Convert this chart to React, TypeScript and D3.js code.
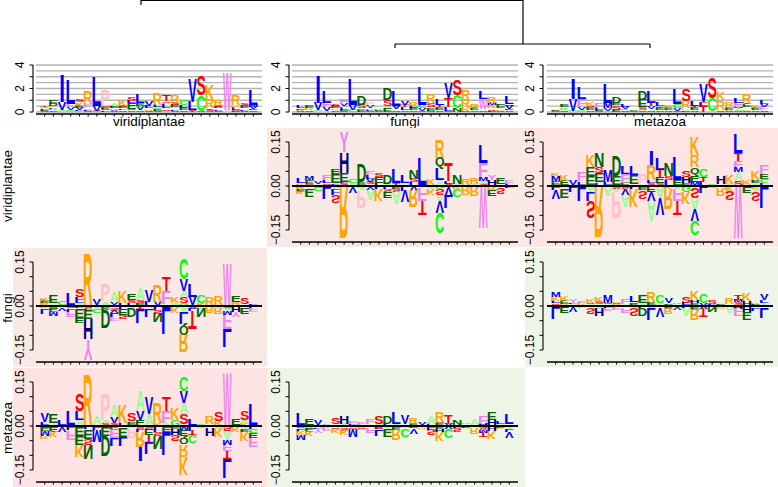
import React from "react";
import * as d3 from "d3";

// Sequence-logo columns: letter+height, listed from the axis outward.
const viridiplantaeLogo = [
  "S.05 K.05 E.08 L.1 A.05 R.08 T.05",
  "S.08 A.1 R.1 L.12 K.15 D.15 E.35",
  "A.08 C.1 V.65 I2.27",
  "K.05 C.08 V.25 F.3 L2.1",
  "R.1 L.1 V.15 E.15 K.2 F.15 S.25",
  "S.1 L.1 K.1 A.15 F.25 R1.05",
  "C.05 S.05 V.45 L2.5",
  "L.08 A.1 E.22 S.15 P1.3",
  "S.1 V.1 K.1 L.15 E.1 A.25",
  "S.1 A.1 L.1 E.15 S.1 K.5",
  "V.05 A.1 S.1 E.5 L.15 S.3",
  "S.05 A.1 V.3 C.1 E.25 L.7",
  "S.1 R.1 A.1 L.2 V.45",
  "S.1 E.15 A.2 L.15 R.95",
  "K.1 S.1 A.15 L.35 F.1 S.1 T.55",
  "S.1 L.1 A.15 K.1 E.15 S.2 R.6",
  "S.05 A.1 E.2 L.25 C.45",
  "T.1 S.05 L.7 V2.0",
  "S.05 C1.35 S1.65",
  "S.2 T.1 R.7 K1.3",
  "S.1 L.1 A.1 E.15 S.1 R.5",
  "A.1 Y.1 W3.2",
  "E.1 S.1 L.15 A.1 K.15 R.9",
  "S.1 L.1 A.1 E.2 S.25",
  "S.05 A.1 E.1 V.15 M.2 L1.3",
];
const fungiLogo = [
  "S.05 K.08 A.07 E.1 L.2",
  "S.05 A.08 R.1 K.12 E.2",
  "A.05 C.1 V.65 I2.35",
  "A.1 V.3 F.4 L1.0",
  "S.08 A.1 K.12 E.15 S.25",
  "S.1 E.1 L.15 A.15 V.15 F.45",
  "C.2 V.4 L2.2",
  "E.15 A.15 S.3 D.8",
  "S.1 L.1 K.1 V.15 A.15 P.2",
  "S.05 E.08 K.1 A.12",
  "E.3 A.2 S.5 D1.0",
  "S.1 A.15 V.3 L1.3",
  "S.08 A.12 L.2 T.2 V.3",
  "S.08 A.12 E.15 L.15 R.3",
  "S.1 V.2 C.3 L1.5",
  "S.1 E.2 A.15 S.3 R.7",
  "S.05 A.15 E.2 T.2 L.5",
  "S.1 L.3 T.75 V1.3",
  "N.3 C1.1 S1.3",
  "S.1 K.2 R.75 R.9",
  "S.08 A.12 E.15 R.3",
  "S.1 A.15 W.7 F.15 L.65",
  "E.1 S.1 A.1 K.3 M.2 R.5",
  "S.08 K.1 A.12 E.35",
  "S.05 A.1 E.1 V.3 M.15 L.65",
];
const metazoaLogo = [
  "S.05 K.05 E.1 A.1",
  "S.05 A.1 K.1 C.15 E.25",
  "A.05 C.05 V1.0 I1.8",
  "K.1 C.05 V.25 F.7 L1.0",
  "S.1 A.1 E.25 S.1 K.35",
  "S.1 E.1 L.15 A.1 F.35",
  "C.1 V.2 M.5 L1.6",
  "E.15 S.35 A.1 E.2 D.55",
  "S.05 A.1 K.1 V.15 L.25",
  "S.05 E.05 A.1",
  "S.1 A.1 S.2 E.6 D.8",
  "S.1 A.15 V.25 T.3 L1.0",
  "S.08 A.12 E.15 T.15 L.3",
  "S.05 A.1 E.15 K.2",
  "S.05 V.25 C.35 L1.35",
  "E.1 A.1 K.1 R.65 S1.0",
  "S.05 A.1 E.15 T.2 L.45",
  "T.5 L.3 S.05 V1.5",
  "A.1 C1.1 S1.8",
  "S.1 A.1 R.8 K.6",
  "S.1 K.1 E.15 A.15 R.3",
  "S.1 A.2 M.1 F.4 L.4",
  "S.1 K.15 A.15 E.3 R.9",
  "S.05 A.1 E.15 K.2",
  "S.05 A.1 F.3 V.2 L.35",
];

// Difference logos, read per column above and below the zero line.
const vfUp = [
  "E.004 K.005 L.018", "A.003 S.005 E.012 M.013", "R.003 A.005 V.01", "A.005 S.005 L.01 F.018", "S.005 L.005 E.03 E.015",
  "S.01 L.005 E.03 H.07 Y.07", "A.01 C.012", "L.004 E.01 D.06", "K.005 S.01 V.01 L.012 F.012", "L.01 E.02 S.015",
  "A.008 D.03", "T.01 L.046", "R.005 A.005 L.025", "L.012 S.012 N.03", "T.005 L.093",
  "E.005 K.02", "A.02 L.04 Q.037 R.061", "S.007 L.01 T.06", "A.007 N.03", "E.005 R.02",
  "A.007 R.02", "S.007 A.01 M.013 F.048 L.06", "S.004 H.015 Y.018", "A.006 E.02", "L.006 F.014",
];
const vfDown = [
  "R.01 E.008 K.008", "K.005 A.005 E.025", "K.003 C.012", "S.002 L.04", "A.01 L.01 L.01 S.025",
  "K.005 R.173", "S.004 V.02", "S.005 A.01 P.059", "S.005 V.008 A.035", "L.01 K.04",
  "L.01 S.01 E.02", "E.01 S.01 A.04", "L.015 V.04", "V.015 R.055", "A.005 F.045 T.05",
  "A.01 K.02", "G.01 S.02 A.02 V.04 C.07", "S.002 V.03 L.045", "K.01 C.026", "A.004 R.024",
  "K.005 R.028", "W.142", "S.005 R.01 E.02", "A.006 S.022", "V.004 L.004",
];
const vmUp = [
  "S.005 E.012 M.016 K.01", "A.002 E.015 K.02", "A.004 V.016", "A.005 L.01 F.03", "S.005 E.03 E.03 K.04",
  "L.01 A.005 E.03 S.02 N.05", "S.005 L.01 M.04", "L.005 E.03 D.068", "E.011 F.03 L.025", "A.006 E.03 L.03",
  "S.005 A.005 P.03", "S.01 L.01 R.05 I.05", "S.01 E.02 T.025 L.04", "L.02 S.015 N.042", "T.005 E.015 L.08",
  "E.01 H.02 S.02", "M.015 E.02 Q.03 R.04 K.06", "L.015 T.015 C.028", "A.005 C.005", "E.006 H.026",
  "A.007 K.03", "S.017 A.03 M.018 F.02 T.028 L.063", "A.005 K.015", "A.01 E.01 K.03", "L.01 C.015 E.015 F.03",
];
const vmDown = [
  "S.005 L.01 V.03", "L.005 A.005 E.03", "A.005 L.015", "S.002 L.048", "A.02 L.03 S.06",
  "K.005 R.17", "S.003 A.03", "S.01 A.01 P.09", "S.01 V.02 A.04", "L.01 K.06",
  "L.005 E.01 S.025", "E.02 V.03 A.07", "A.04 V.057", "K.01 R.07", "A.01 F.04 T.05",
  "G.02 K.04", "E.005 S.035 A.04 V.04 C.05", "S.005 L.02", "A.003 C.005", "E.006 R.026",
  "K.015 S.033", "W.18", "A.005 E.02", "K.01 A.01 S.033", "L.074",
];
const fmUp = [
  "E.004 S.004 A.003 L.006 K.014 M.016", "S.003 R.003 E.012 K.016", "R.003 A.003 L.004 Y.013", "E.003 K.003 A.002 F.008", "E.003 A.003 S.004 K.014",
  "E.003 A.003 S.008 K.018", "R.003 A.003 S.004 M.024", "E.004 R.004 S.003 K.006", "K.003 A.005 F.016", "E.008 S.005 L.022",
  "A.01 E.027", "L.005 E.007 R.035", "E.004 A.006 C.026", "R.004 E.006 V.018", "E.003 A.004 R.003",
  "A.003 L.008 S.02", "E.01 H.01 K.03", "V.01 C.03", "R.003 L.004 S.015", "K.004 E.003 A.003",
  "E.006 R.02", "R.003 S.01 M.007 T.018", "A.005 H.013 K.025", "R.003 E.003 K.005", "A.01 L.01 V.02",
];
const fmDown = [
  "A.004 L.04", "L.005 E.02", "A.003 V.015", "E.003 F.006 A.002", "L.005 S.02",
  "A.008 H.025", "K.003 L.002 F.008", "S.002 F.01", "R.005 F.015", "A.008 S.025",
  "L.008 D.025", "A.008 L.04", "S.006 V.03", "E.008 R.02", "L.003 V.008",
  "L.008 A.025", "E.01 S.005 R.035", "V.008 T.03", "K.004 N.018", "E.003 A.003 R.004",
  "S.005 A.02", "H.008 F.028", "S.004 H.015 E.025", "R.004 A.003 L.008", "A.006 L.034",
];

const speciesLabels = ["viridiplantae", "fungi", "metazoa"];
const yTicksTop = [0, 1, 2, 3, 4];
const yTickLabelsTop = [0, 2, 4];
const gridLevels = [0, 0.5, 1, 1.5, 2, 2.5, 3, 3.5, 4];
const yTicksDiff = [-0.15, -0.1, -0.05, 0, 0.05, 0.1, 0.15];
const yTickLabelsDiff = [-0.15, 0, 0.15];
const positions = d3.range(1, 26);

const letterColors: Record<string, string> = {
  A: "#98fb98", C: "#00ff00", D: "#006400", E: "#006400", F: "#ee82ee", G: "#00ff00", H: "#000080",
  I: "#0000ff", K: "#ffa500", L: "#0000ff", M: "#0000ff", N: "#006400", P: "#ffc0cb", Q: "#006400",
  R: "#ffa500", S: "#ff0000", T: "#ff0000", V: "#0000ff", W: "#ee82ee", Y: "#ee82ee",
};

const FONT = "'Liberation Sans', Arial, sans-serif";
const columnsX = [36, 292, 547];
const yAxisX = [33, 289, 543];
const axisW = 226;
const letterW = 8.6;

type Entry = { letter: string; h: number };
const parse = (s: string): Entry[] =>
  Array.from(s.matchAll(/([A-Z])([\d.]+)/g)).map((m) => ({ letter: m[1], h: +m[2] }));

const ctx = document.createElement("canvas").getContext("2d")!;
const metricCache: Record<string, { l: number; r: number; a: number; d: number }> = {};
function metric(letter: string) {
  if (!metricCache[letter]) {
    ctx.font = `bold 100px ${FONT}`;
    const m = ctx.measureText(letter);
    metricCache[letter] = {
      l: m.actualBoundingBoxLeft,
      r: m.actualBoundingBoxRight,
      a: m.actualBoundingBoxAscent,
      d: m.actualBoundingBoxDescent,
    };
  }
  return metricCache[letter];
}

function Glyph({ letter, cx, yBase, yEnd, width }: { letter: string; cx: number; yBase: number; yEnd: number; width: number }) {
  // The box runs from yBase (side nearest the axis) to yEnd; below-zero letters come out upside-down.
  const m = metric(letter);
  const sx = width / (m.l + m.r);
  const up = yEnd < yBase;
  const sy = (Math.abs(yEnd - yBase) / (m.a + m.d)) * (up ? 1 : -1);
  const tx = cx - width / 2 + m.l * sx;
  const ty = yBase - m.d * sy;
  return (
    <text
      transform={`translate(${tx},${ty}) scale(${sx},${sy})`}
      fontFamily={FONT}
      fontWeight="bold"
      fontSize={100}
      fill={letterColors[letter]}
    >
      {letter}
    </text>
  );
}

function stackGlyphs(cols: string[], x: d3.ScaleLinear<number, number>, y: d3.ScaleLinear<number, number>, dir: 1 | -1) {
  const out: React.ReactNode[] = [];
  cols.forEach((col, i) => {
    let acc = 0;
    parse(col).forEach((e, j) => {
      const y0 = y(dir * acc);
      acc += e.h;
      const y1 = y(dir * acc);
      out.push(
        <Glyph
          key={`${dir}-${i}-${j}`}
          letter={e.letter}
          cx={x(positions[i])}
          yBase={y0}
          yEnd={y1}
          width={e.letter === "I" ? 3.3 : letterW}
        />
      );
    });
  });
  return out;
}

function XAxis({ x, yPos }: { x: d3.ScaleLinear<number, number>; yPos: number }) {
  const [a, b] = x.range();
  return (
    <g stroke="#000" strokeWidth={1}>
      <line x1={a} x2={b} y1={yPos} y2={yPos} strokeWidth={1.4} />
      {positions.map((p) => (
        <line key={p} x1={x(p)} x2={x(p)} y1={yPos} y2={yPos + 2.5} />
      ))}
    </g>
  );
}

function YAxis({ ax, y, ticks, labels, fmt }: { ax: number; y: d3.ScaleLinear<number, number>; ticks: number[]; labels: number[]; fmt: (v: number) => string }) {
  return (
    <g>
      <line x1={ax} x2={ax} y1={y(ticks[0])} y2={y(ticks[ticks.length - 1])} stroke="#000" strokeWidth={1.1} />
      {ticks.map((t) => (
        <line key={t} x1={ax - 3.5} x2={ax} y1={y(t)} y2={y(t)} stroke="#000" strokeWidth={1} />
      ))}
      {labels.map((t) => (
        <text
          key={t}
          transform={`translate(${ax - 9.5},${y(t)}) rotate(-90)`}
          textAnchor="middle"
          fontFamily={FONT}
          fontSize={12}
          fill="#000"
        >
          {fmt(t)}
        </text>
      ))}
    </g>
  );
}

function TopPanel({ col, data, label }: { col: number; data: string[]; label: string }) {
  const x = d3.scaleLinear().domain([0, 26]).range([columnsX[col], columnsX[col] + axisW]);
  const y = d3.scaleLinear().domain([0, 4]).range([112, 65]);
  return (
    <g>
      {gridLevels.map((g) => (
        <line key={g} x1={x(0)} x2={x(26)} y1={y(g)} y2={y(g)} stroke="#b4b4b4" strokeWidth={1.4} />
      ))}
      {stackGlyphs(data, x, y, 1)}
      <XAxis x={x} yPos={114} />
      <YAxis ax={yAxisX[col]} y={y} ticks={yTicksTop} labels={yTickLabelsTop} fmt={(v) => String(v)} />
      <text x={(x(0) + x(26)) / 2} y={125.5} textAnchor="middle" fontFamily={FONT} fontSize={13.5}>
        {label}
      </text>
    </g>
  );
}

function DiffPanel({ col, row, up, down, bg }: { col: number; row: number; up: string[]; down: string[]; bg: [number, number, number, number, string] }) {
  const x = d3.scaleLinear().domain([0, 26]).range([columnsX[col], columnsX[col] + axisW]);
  const zero = 186 + row * 120;
  const y = d3.scaleLinear().domain([-0.15, 0.15]).range([zero + 44, zero - 44]);
  return (
    <g>
      <rect x={bg[0]} y={bg[1]} width={bg[2] - bg[0]} height={bg[3] - bg[1]} fill={bg[4]} />
      {stackGlyphs(up, x, y, 1)}
      {stackGlyphs(down, x, y, -1)}
      <line x1={x(0)} x2={x(26)} y1={y(0)} y2={y(0)} stroke="#000" strokeWidth={1.8} />
      <XAxis x={x} yPos={zero + 56} />
      <YAxis ax={yAxisX[col]} y={y} ticks={yTicksDiff} labels={yTickLabelsDiff} fmt={(v) => d3.format(".2f")(v)} />
    </g>
  );
}

const treeSegments = [
  [141, 0.5, 523, 0.5],
  [141, 0, 141, 5],
  [523, 0, 523, 44],
  [395, 44, 650, 44],
  [395, 44, 395, 48],
  [650, 44, 650, 48],
];

export default function App() {
  return (
    <svg width={778} height={487} style={{ position: "absolute", left: 0, top: 0, background: "#fff" }}>
      {treeSegments.map((t, i) => (
        <line key={i} x1={t[0]} y1={t[1]} x2={t[2]} y2={t[3]} stroke="#000" strokeWidth={1.2} />
      ))}
      <TopPanel col={0} data={viridiplantaeLogo} label={speciesLabels[0]} />
      <TopPanel col={1} data={fungiLogo} label={speciesLabels[1]} />
      <TopPanel col={2} data={metazoaLogo} label={speciesLabels[2]} />

      <DiffPanel col={1} row={0} up={vfUp} down={vfDown} bg={[267, 128, 525, 247, "#f8e9e5"]} />
      <DiffPanel col={2} row={0} up={vmUp} down={vmDown} bg={[525, 128, 778, 247, "#fde5e3"]} />
      <DiffPanel col={0} row={1} up={vfDown} down={vfUp} bg={[13, 248, 267, 367, "#f8e9e5"]} />
      <DiffPanel col={2} row={1} up={fmUp} down={fmDown} bg={[525, 248, 778, 367, "#eff5e6"]} />
      <DiffPanel col={0} row={2} up={vmDown} down={vmUp} bg={[13, 368, 267, 487, "#fde3e3"]} />
      <DiffPanel col={1} row={2} up={fmDown} down={fmUp} bg={[267, 368, 525, 487, "#eff5e6"]} />

      {[186, 308, 428].map((cy, i) => (
        <text key={i} transform={`translate(12,${cy}) rotate(-90)`} textAnchor="middle" fontFamily={FONT} fontSize={13.5}>
          {speciesLabels[i]}
        </text>
      ))}
    </svg>
  );
}
